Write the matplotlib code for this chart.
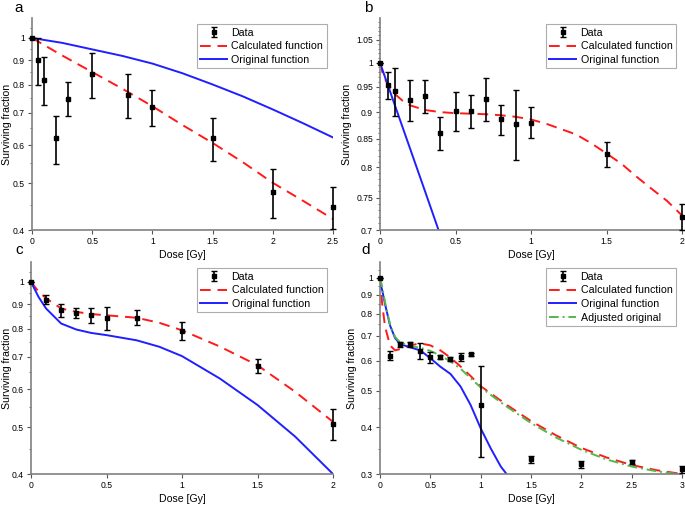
import numpy as np
import matplotlib
matplotlib.use('Agg')
import matplotlib.pyplot as plt
from matplotlib.ticker import FixedLocator, FuncFormatter, NullFormatter

plt.rcParams['font.family'] = ['Liberation Sans', 'DejaVu Sans']

# ---- panel a ----
a_dose = [0, 0.05, 0.1, 0.2, 0.3, 0.5, 0.8, 1.0, 1.5, 2.0, 2.5]
a_sf = [1.0, 0.899, 0.82, 0.619, 0.749, 0.841, 0.763, 0.72, 0.619, 0.479, 0.446]
a_err = [0, 0.1, 0.095, 0.07, 0.06, 0.09, 0.08, 0.062, 0.063, 0.055, 0.045]
a_fx = [0, 0.25, 0.5, 0.75, 1.0, 1.25, 1.5, 1.75, 2.0, 2.25, 2.5]
a_calc = [1.0, 0.92, 0.85, 0.785, 0.722, 0.66, 0.606, 0.553, 0.501, 0.46, 0.4215]
a_orig = [1.0, 0.977, 0.947, 0.918, 0.885, 0.845, 0.801, 0.757, 0.711, 0.666, 0.622]

# ---- panel b ----
b_dose = [0, 0.05, 0.1, 0.2, 0.3, 0.4, 0.5, 0.6, 0.7, 0.8, 0.9, 1.0, 1.5, 2.0]
b_sf = [1.0, 0.953, 0.9415, 0.923, 0.931, 0.861, 0.9016, 0.9016, 0.926, 0.886, 0.8783, 0.880, 0.8229, 0.720]
b_err = [0, 0.027, 0.048, 0.04, 0.033, 0.03, 0.037, 0.032, 0.042, 0.028, 0.065, 0.029, 0.022, 0.02]
b_fx = [0, 0.02, 0.05, 0.1, 0.15, 0.2, 0.3, 0.4, 0.5, 0.6, 0.7, 0.8, 0.9, 1.0, 1.1, 1.2, 1.3, 1.4, 1.5, 1.6, 1.7, 1.8, 1.9, 2.0]
b_calc = [1.0, 0.975, 0.955, 0.935, 0.922, 0.913, 0.904, 0.9, 0.898, 0.897, 0.896, 0.894, 0.891, 0.886,
          0.878, 0.868, 0.858, 0.842, 0.824, 0.806, 0.784, 0.764, 0.745, 0.722]
b_ox = [0, 0.1, 0.2, 0.3, 0.4]
b_orig = [1.0, 0.912, 0.832, 0.759, 0.692]

# ---- panel c ----
c_dose = [0, 0.1, 0.2, 0.3, 0.4, 0.5, 0.7, 1.0, 1.5, 2.0]
c_sf = [1.0, 0.919, 0.874, 0.864, 0.853, 0.842, 0.843, 0.791, 0.669, 0.5076]
c_err = [0, 0.02, 0.028, 0.021, 0.029, 0.046, 0.03, 0.034, 0.022, 0.038]
c_fx = [0, 0.05, 0.1, 0.2, 0.3, 0.4, 0.5, 0.7, 0.85, 1.0, 1.25, 1.5, 1.75, 2.0]
c_calc = [1.0, 0.955, 0.925, 0.881, 0.867, 0.858, 0.853, 0.843, 0.823, 0.794, 0.735, 0.672, 0.592, 0.513]
c_orig = [1.0, 0.931, 0.881, 0.82, 0.797, 0.784, 0.776, 0.757, 0.734, 0.702, 0.631, 0.556, 0.478, 0.4]

# ---- panel d ----
d_dose = [0, 0.1, 0.2, 0.3, 0.4, 0.5, 0.6, 0.7, 0.8, 0.9, 1.0, 1.5, 2.0, 2.5, 3.0]
d_sf = [1.0, 0.62, 0.6635, 0.6635, 0.638, 0.613, 0.615, 0.606, 0.615, 0.625, 0.457, 0.328, 0.318, 0.3235, 0.309]
d_err = [0, 0.017, 0.01, 0.012, 0.03, 0.019, 0.008, 0.008, 0.015, 0.006, 0.125, 0.007, 0.006, 0.004, 0.007]
d_fx = [0, 0.02, 0.05, 0.1, 0.15, 0.2, 0.3, 0.4, 0.5, 0.6, 0.7, 0.8, 0.9, 1.0,
        1.25, 1.5, 1.75, 2.0, 2.25, 2.5, 2.75, 3.0]
d_calc = [1.0, 0.86, 0.74, 0.66, 0.64, 0.645, 0.66, 0.668, 0.66, 0.64, 0.612, 0.58, 0.547, 0.514,
          0.46, 0.415, 0.38, 0.352, 0.332, 0.317, 0.307, 0.30]
d_adj = [1.0, 0.95, 0.86, 0.75, 0.695, 0.672, 0.658, 0.65, 0.638, 0.62, 0.598, 0.572, 0.54, 0.51,
         0.455, 0.41, 0.375, 0.348, 0.328, 0.314, 0.305, 0.299]
d_ox = [0, 0.02, 0.05, 0.1, 0.15, 0.2, 0.3, 0.4, 0.5, 0.6, 0.7, 0.8, 0.9, 1.0, 1.1, 1.2, 1.3]
d_orig = [0.97, 0.93, 0.85, 0.745, 0.69, 0.665, 0.652, 0.64, 0.61, 0.579, 0.554, 0.513, 0.458, 0.397,
          0.351, 0.314, 0.29]

W, H = 685, 507
fig = plt.figure(figsize=(W / 100, H / 100), dpi=100)

grey = '#808080'
fs_tick = 6.2
fs_lab = 7.6
fs_leg = 7.7


def make_ax(l, t, r, b):
    return fig.add_axes([l / W, 1 - b / H, (r - l) / W, (b - t) / H])


def style(ax, xmax, xticks, ymin, major, minor, ylab_x):
    ax.set_yscale('log')
    ax.set_xlim(0, xmax)
    ax.set_ylim(ymin, 1.1)
    for s in ['top', 'right']:
        ax.spines[s].set_visible(False)
    for s in ['left', 'bottom']:
        ax.spines[s].set_color(grey)
        ax.spines[s].set_linewidth(1.2)
    ax.set_xticks(xticks)
    ax.xaxis.set_major_formatter(FuncFormatter(lambda v, p: '%g' % v))
    ax.yaxis.set_major_locator(FixedLocator(major))
    ax.yaxis.set_minor_locator(FixedLocator(minor))
    ax.yaxis.set_major_formatter(FuncFormatter(lambda v, p: '%g' % round(v, 3)))
    ax.yaxis.set_minor_formatter(NullFormatter())
    ax.tick_params(which='major', length=3, width=0.8, color='#555555', labelsize=fs_tick, pad=2)
    ax.tick_params(which='minor', length=1.8, width=0.6, color='#555555')
    ax.set_xlabel('Dose [Gy]', fontsize=fs_lab, labelpad=3)
    ax.set_ylabel('Surviving fraction', fontsize=fs_lab)
    ax.yaxis.set_label_coords(ylab_x, 0.5)


def data(ax, x, y, e):
    return ax.errorbar(x, y, yerr=e, fmt='s', color='black', ms=3.4, elinewidth=1.2,
                       capsize=2, capthick=1.0, clip_on=False, zorder=5, label='Data')


def legend(ax, handles):
    lg = ax.legend(handles=handles, loc='upper right', fontsize=fs_leg, frameon=True, fancybox=False,
                   edgecolor='#999999', handlelength=2.5, handletextpad=0.4,
                   borderpad=0.3, labelspacing=0.35, borderaxespad=0.6)
    lg.get_frame().set_linewidth(0.8)


dash = dict(color='#ff1a1a', lw=1.4, ls=(0, (5.5, 3.5)))
solid = dict(color='#1f1fff', lw=1.4)

# a
ax = make_ax(32, 18, 333, 230)
h0 = data(ax, a_dose, a_sf, a_err)
h1, = ax.plot(a_fx, a_calc, label='Calculated function', **dash)
h2, = ax.plot(a_fx, a_orig, label='Original function', **solid)
style(ax, 2.5, [0, 0.5, 1, 1.5, 2, 2.5], 0.4,
      [0.4, 0.5, 0.6, 0.7, 0.8, 0.9, 1.0], [0.45, 0.55, 0.65, 0.75, 0.85, 0.95, 1.05], -0.065)
legend(ax, [h0, h1, h2])

# b
ax = make_ax(380, 18, 682, 230)
h0 = data(ax, b_dose, b_sf, b_err)
h1, = ax.plot(b_fx, b_calc, label='Calculated function', **dash)
h2, = ax.plot(b_ox, b_orig, label='Original function', **solid)
style(ax, 2, [0, 0.5, 1, 1.5, 2], 0.7,
      [0.7, 0.75, 0.8, 0.85, 0.9, 0.95, 1.0, 1.05],
      [v for v in np.round(np.arange(0.71, 1.1, 0.01), 2) if round(v * 100) % 5 != 0], -0.093)
legend(ax, [h0, h1, h2])

# c
ax = make_ax(31, 262, 333, 474)
h0 = data(ax, c_dose, c_sf, c_err)
h1, = ax.plot(c_fx, c_calc, label='Calculated function', **dash)
h2, = ax.plot(c_fx, c_orig, label='Original function', **solid)
style(ax, 2, [0, 0.5, 1, 1.5, 2], 0.4,
      [0.4, 0.5, 0.6, 0.7, 0.8, 0.9, 1.0], [0.45, 0.55, 0.65, 0.75, 0.85, 0.95, 1.05], -0.062)
legend(ax, [h0, h1, h2])

# d
ax = make_ax(380, 262, 682, 474)
h0 = data(ax, d_dose, d_sf, d_err)
h1, = ax.plot(d_fx, d_calc, label='Calculated function', **dash)
h2, = ax.plot(d_ox, d_orig, label='Original function', **solid)
h3, = ax.plot(d_fx, d_adj, color='#55b84a', lw=1.4, ls=(0, (5, 2, 1, 2)), label='Adjusted original')
style(ax, 3, [0, 0.5, 1, 1.5, 2, 2.5, 3], 0.3,
      [0.3, 0.4, 0.5, 0.6, 0.7, 0.8, 0.9, 1.0], [0.35, 0.45, 0.55, 0.65, 0.75, 0.85, 0.95, 1.05], -0.076)
legend(ax, [h0, h1, h2, h3])

for lab, x, y in [('a', 19, 8), ('b', 368, 8), ('c', 19, 250), ('d', 366, 250)]:
    fig.text(x / W, 1 - y / H, lab, fontsize=11, ha='center', va='center')

fig.savefig('out.png', dpi=100)
